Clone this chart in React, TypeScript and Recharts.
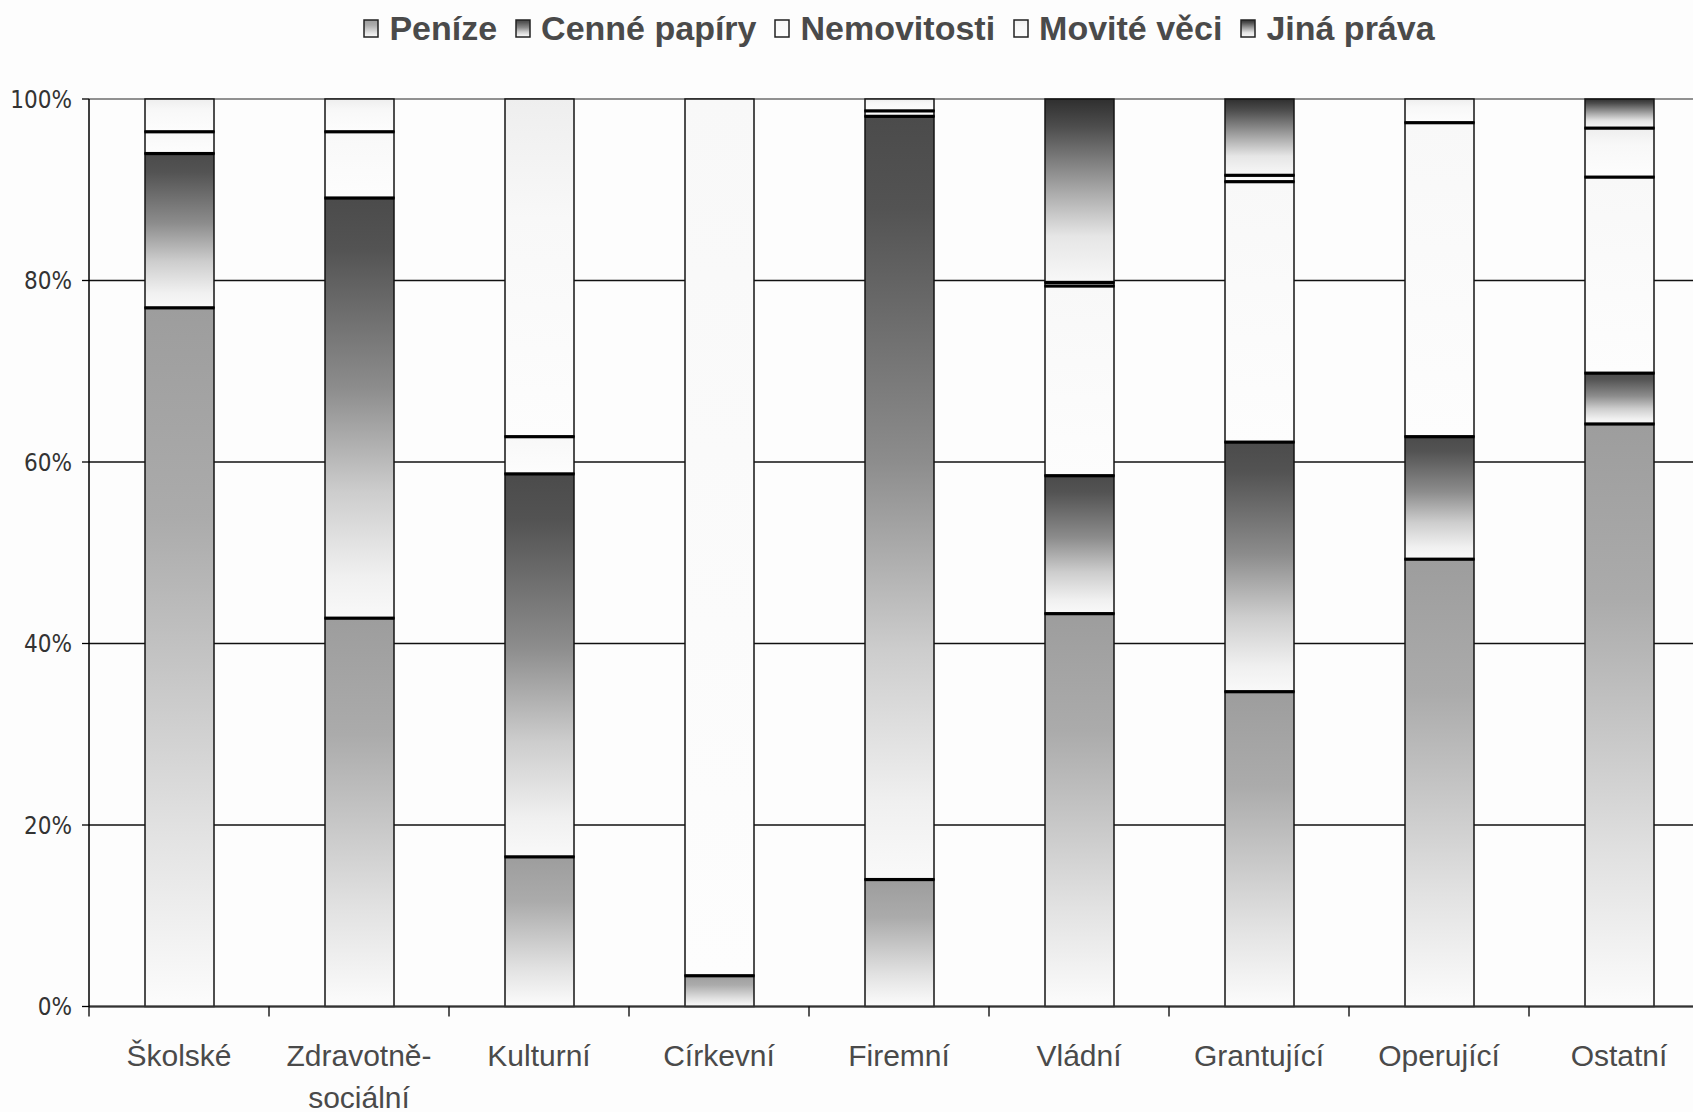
import { BarChart, Bar, XAxis, YAxis, CartesianGrid } from "recharts";

// categories (types of foundations) and share of each asset type, in %
const categories = [
  "Školské",
  "Zdravotně-sociální",
  "Kulturní",
  "Církevní",
  "Firemní",
  "Vládní",
  "Grantující",
  "Operující",
  "Ostatní",
];
const penize = [77.0, 42.8, 16.5, 3.4, 14.0, 43.3, 34.7, 49.3, 64.2];
const cennePapiry = [17.0, 46.3, 42.2, 0, 84.1, 15.2, 27.5, 13.5, 5.6];
const nemovitosti = [2.4, 7.3, 4.1, 96.6, 0.6, 20.9, 28.7, 34.6, 21.6];
const moviteVeci = [3.6, 3.6, 37.2, 0, 1.3, 0.4, 0.7, 2.6, 5.4];
const jinaPrava = [0, 0, 0, 0, 0, 20.2, 8.4, 0, 3.2];
const yTicks = [0, 20, 40, 60, 80, 100];

const series = [
  { key: "penize", name: "Peníze", values: penize, grad: "g-penize" },
  { key: "cenne", name: "Cenné papíry", values: cennePapiry, grad: "g-cenne" },
  { key: "nemov", name: "Nemovitosti", values: nemovitosti, grad: "g-nemov" },
  { key: "movite", name: "Movité věci", values: moviteVeci, grad: "g-movite" },
  { key: "jina", name: "Jiná práva", values: jinaPrava, grad: "g-jina" },
];

const data = categories.map((name, i) => {
  const row: Record<string, any> = { name };
  series.forEach((s) => (row[s.key] = s.values[i]));
  return row;
});

const CHART_W = 1730;
const CHART_H = 1112;
const TOP = 99;
const LEFT = 89;
const RIGHT = 21;
const X_AXIS_H = 105.5;
const BOTTOM = CHART_H - X_AXIS_H;
const BAND = (CHART_W - LEFT - RIGHT) / categories.length;

const TEXT = "#4a4a4a";
const FONT = "'Liberation Sans', Arial, sans-serif";
const NARROW = "'Liberation Sans Narrow', 'Arial Narrow', 'DejaVu Sans Condensed', sans-serif";

function Gradients() {
  return (
    <>
      <linearGradient id="g-penize" x1="0" y1="0" x2="0" y2="1">
        <stop offset="0" stopColor="#9d9d9d" />
        <stop offset="0.3" stopColor="#ababab" />
        <stop offset="0.75" stopColor="#e2e2e2" />
        <stop offset="1" stopColor="#fcfcfc" />
      </linearGradient>
      <linearGradient id="g-cenne" x1="0" y1="0" x2="0" y2="1">
        <stop offset="0" stopColor="#4b4b4b" />
        <stop offset="0.12" stopColor="#535353" />
        <stop offset="0.45" stopColor="#8c8c8c" />
        <stop offset="0.7" stopColor="#cdcdcd" />
        <stop offset="0.9" stopColor="#f0f0f0" />
        <stop offset="1" stopColor="#f9f9f9" />
      </linearGradient>
      <linearGradient id="g-nemov" x1="0" y1="0" x2="0" y2="1">
        <stop offset="0" stopColor="#f8f8f8" />
        <stop offset="1" stopColor="#fdfdfd" />
      </linearGradient>
      <linearGradient id="g-movite" x1="0" y1="0" x2="0" y2="1">
        <stop offset="0" stopColor="#eeeeee" />
        <stop offset="0.35" stopColor="#f8f8f8" />
        <stop offset="1" stopColor="#fdfdfd" />
      </linearGradient>
      <linearGradient id="g-jina" x1="0" y1="0" x2="0" y2="1">
        <stop offset="0" stopColor="#2f2f2f" />
        <stop offset="0.15" stopColor="#4d4d4d" />
        <stop offset="0.5" stopColor="#a8a8a8" />
        <stop offset="0.75" stopColor="#e6e6e6" />
        <stop offset="1" stopColor="#f8f8f8" />
      </linearGradient>
    </>
  );
}

// a stacked segment: thin outline, heavy black line where it meets the segment below
function Segment(props: any) {
  const { x, y, width, height, fill } = props;
  if (!height || height < 0.3) return null;
  const bottom = y + height;
  const onAxis = bottom >= BOTTOM - 0.5;
  return (
    <g>
      <rect x={x} y={y} width={width} height={height} fill={fill} stroke="#141414" strokeWidth={1.5} />
      {!onAxis && <rect x={x - 0.5} y={bottom - 1.5} width={width + 1} height={3.2} fill="#000" />}
    </g>
  );
}

function CatTick(props: any) {
  const { x, y, payload } = props;
  const label: string = payload.value;
  const cut = label.indexOf("-");
  const lines = cut >= 0 ? [label.slice(0, cut + 1), label.slice(cut + 1)] : [label];
  return (
    <g>
      <line x1={x - BAND / 2} x2={x - BAND / 2} y1={y} y2={y + 10} stroke="#000" strokeWidth={1.3} />
      {lines.map((l, i) => (
        <text key={i} x={x} y={y + 59} dy={i * 42} textAnchor="middle" fontSize={30} fontFamily={FONT} fill={TEXT}>
          {l}
        </text>
      ))}
    </g>
  );
}

function PctTick(props: any) {
  const { x, y, payload } = props;
  return (
    <text x={x} y={y} dy={8.5} textAnchor="end" fontSize={24} fontFamily={NARROW} fill="#333">
      {payload.value}%
    </text>
  );
}

function GridLine(p: any) {
  return (
    <line
      key={`h-${p.index}`}
      x1={p.x1}
      y1={p.y1}
      x2={p.x2}
      y2={p.y2}
      stroke={p.y1 <= TOP + 1 ? "#8a8a8a" : "#111"}
      strokeWidth={1.5}
    />
  );
}

function LegendBox() {
  return (
    <div
      style={{
        position: "absolute",
        top: 9,
        left: LEFT,
        width: BAND * categories.length,
        display: "flex",
        justifyContent: "center",
        alignItems: "center",
        fontFamily: FONT,
        fontWeight: "bold",
        fontSize: 34,
        color: TEXT,
        whiteSpace: "nowrap",
      }}
    >
      {series.map((s, i) => (
        <div
          key={s.key}
          style={{ display: "flex", alignItems: "center", marginRight: i < series.length - 1 ? 18 : 0 }}
        >
          <svg width={16} height={19} style={{ marginRight: 10 }}>
            <rect x={1} y={1} width={14} height={17} fill={`url(#${s.grad})`} stroke="#222" strokeWidth={1.5} />
          </svg>
          <span>{s.name}</span>
        </div>
      ))}
    </div>
  );
}

export default function App() {
  return (
    <div
      style={{
        position: "absolute",
        left: 0,
        top: 0,
        width: 1693,
        height: 1112,
        overflow: "hidden",
        background: "#fdfdfd",
      }}
    >
      <LegendBox />
      <BarChart
        width={CHART_W}
        height={CHART_H}
        data={data}
        margin={{ top: TOP, right: RIGHT, bottom: 0, left: 0 }}
      >
        <defs>
          <Gradients />
        </defs>
        <CartesianGrid vertical={false} horizontal={GridLine} />
        <XAxis
          dataKey="name"
          height={X_AXIS_H}
          interval={0}
          tickLine={false}
          tickSize={0}
          tickMargin={0}
          tick={<CatTick />}
          axisLine={{ stroke: "#333", strokeWidth: 2 }}
        />
        <YAxis
          width={LEFT}
          domain={[0, 100]}
          ticks={yTicks}
          interval={0}
          tickSize={7}
          tickMargin={10}
          tick={<PctTick />}
          tickLine={{ stroke: "#000", strokeWidth: 1.3 }}
          axisLine={{ stroke: "#000", strokeWidth: 1.5 }}
        />
        {series.map((s) => (
          <Bar
            key={s.key}
            dataKey={s.key}
            name={s.name}
            stackId="a"
            barSize={69}
            fill={`url(#${s.grad})`}
            shape={<Segment />}
            isAnimationActive={false}
          />
        ))}
      </BarChart>
    </div>
  );
}
